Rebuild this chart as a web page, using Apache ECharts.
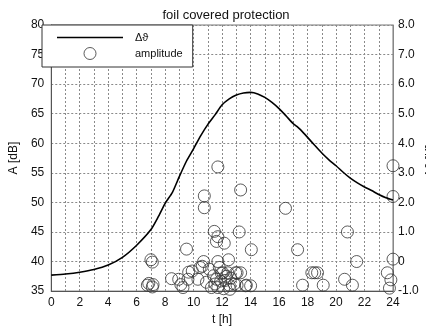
<!DOCTYPE html>
<html>
<head>
<meta charset="utf-8">
<script src="https://cdn.jsdelivr.net/npm/echarts@6/dist/echarts.min.js"></script>
<style>
  html, body { margin: 0; padding: 0; background: #fff; }
  #chart { width: 426px; height: 331px; }
</style>
</head>
<body>
<div id="chart"></div>
<script>
// temperature difference curve (right axis)
const lineHours = [0, 1, 2, 3, 4, 5, 6, 7, 7.5, 8, 8.5, 9, 9.5, 10, 10.5, 11, 11.5, 12, 12.5, 13, 13.5, 14, 14.5,
  15, 15.5, 16, 16.5, 17, 17.25, 17.5, 18, 18.5, 19, 19.5, 20, 20.5, 21, 21.5, 22, 22.5, 23, 23.5, 24]
const lineDelta = [-0.46, -0.42, -0.36, -0.27, -0.12, 0.14, 0.55, 1.08, 1.5, 1.97, 2.33, 2.88, 3.4, 3.82, 4.26, 4.64, 4.96, 5.3, 5.5, 5.63, 5.7, 5.72, 5.67,
  5.55, 5.38, 5.17, 4.92, 4.66, 4.57, 4.46, 4.2, 3.93, 3.67, 3.44, 3.24, 3.02, 2.82, 2.66, 2.52, 2.4, 2.27, 2.16, 2.08]

// amplitude events (left axis)
const ampHours = [6.75, 6.85, 7.1, 7.15, 7.0, 7.1,
  8.45, 8.95, 9.1, 9.25, 9.5, 9.65, 9.6, 9.9, 10.3, 10.45, 10.6, 10.7, 10.75, 10.75,
  10.9, 11.1, 11.25, 11.4, 11.45, 11.5, 11.6, 11.6, 11.7, 11.7, 11.7, 11.7, 11.8, 11.9,
  11.95, 12.05, 12.1, 12.15, 12.2, 12.3, 12.4, 12.45, 12.5, 12.55, 12.6, 12.85, 12.95,
  13.05, 13.05, 13.2, 13.3, 13.3, 13.65, 13.7, 14.05, 14.0,
  16.45, 17.3, 17.65, 18.3, 18.5, 18.7, 19.1, 20.6, 20.8, 21.15, 21.45,
  23.6, 23.85, 23.75, 24.0, 24.0, 24.0]
const ampDb = [36.0, 36.3, 35.7, 36.1, 40.3, 39.9,
  37.1, 37.0, 36.1, 35.6, 42.1, 38.2, 37.0, 38.4, 37.0, 39.0, 39.2, 40.0, 51.1, 49.1,
  36.5, 38.7, 35.6, 37.6, 45.1, 36.2, 43.4, 37.0, 56.0, 44.2, 40.0, 35.6, 39.0, 36.7,
  38.0, 38.1, 35.4, 43.1, 36.8, 37.5, 38.1, 40.3, 36.0, 35.3, 37.2, 36.2, 38.1,
  38.1, 36.0, 45.0, 52.1, 38.1, 35.9, 36.0, 42.0, 35.9,
  49.0, 42.0, 36.0, 38.1, 38.1, 38.1, 36.0, 37.0, 45.0, 36.0, 40.0,
  38.1, 36.9, 35.5, 40.4, 56.2, 51.0]

const lineData = lineHours.map((t, i) => [t, lineDelta[i]])
const ampData = ampHours.map((t, i) => [t, ampDb[i]])

const font = 'Liberation Sans, Arial, sans-serif'
const gridLine = { lineStyle: { color: '#8a8a8a', type: [2, 2], width: 1 } }
const circleStyle = { color: 'rgba(0,0,0,0)', borderColor: '#333', borderWidth: 1 }

const chart = echarts.init(document.getElementById('chart'))
chart.setOption({
  animation: false,
  textStyle: { fontFamily: font },
  title: {
    text: 'foil covered protection',
    left: 221,
    textAlign: 'center',
    top: 4,
    textStyle: { fontSize: 13, fontWeight: 'normal', color: '#111', fontFamily: font }
  },
  legend: {
    left: 42,
    top: 25,
    orient: 'vertical',
    itemWidth: 66,
    itemHeight: 12,
    itemGap: 4,
    padding: [7, 10, 7, 15],
    backgroundColor: '#fff',
    borderColor: '#333',
    borderWidth: 1,
    borderRadius: 0,
    symbolKeepAspect: true,
    textStyle: { fontSize: 11, color: '#111', padding: [0, 0, 0, 7] },
    data: [
      { name: 'Δϑ', icon: 'path://M0,0 L66,0 L66,1.7 L0,1.7 Z', itemStyle: { color: '#000', borderWidth: 0 } },
      { name: 'amplitude', icon: 'circle', itemStyle: circleStyle }
    ]
  },
  graphic: [{
    // right axis title, cut off by the page edge as in the original
    type: 'text',
    x: 431,
    y: 161,
    rotation: Math.PI / 2,
    style: { text: 'Δϑ [K]', font: '12px ' + font, fill: '#111', align: 'center', verticalAlign: 'middle' }
  }],
  grid: {
    left: 42, right: 33, top: 25, bottom: 34,
    show: true, borderColor: '#777', borderWidth: 1, backgroundColor: 'transparent'
  },
  xAxis: {
    type: 'value',
    min: 0, max: 24, interval: 2,
    name: 't [h]',
    nameLocation: 'middle',
    nameGap: 20,
    nameTextStyle: { fontSize: 12, color: '#111' },
    axisLine: { onZero: false, lineStyle: { color: '#555' } },
    axisTick: { show: false },
    axisLabel: { fontSize: 12, color: '#111', margin: 6 },
    splitLine: gridLine,
    minorTick: { show: false, splitNumber: 2 },
    minorSplitLine: { show: true, lineStyle: { color: '#8a8a8a', type: [2, 2], width: 1 } }
  },
  yAxis: [{
    type: 'value',
    min: 35, max: 80, interval: 5,
    name: 'A [dB]',
    nameLocation: 'middle',
    nameGap: 30,
    nameTextStyle: { fontSize: 12, color: '#111' },
    axisLine: { show: true, lineStyle: { color: '#555' } },
    axisTick: { show: false },
    axisLabel: { fontSize: 12, color: '#111', margin: 7 },
    splitLine: gridLine
  }, {
    type: 'value',
    position: 'right',
    min: -1, max: 8, interval: 1,
    axisLine: { show: true, lineStyle: { color: '#888' } },
    axisTick: { show: false },
    axisLabel: {
      fontSize: 12, color: '#111', margin: 5,
      formatter: v => v === 0 ? '0' : v.toFixed(1)
    },
    splitLine: { show: false }
  }],
  series: [{
    name: 'Δϑ',
    type: 'line',
    yAxisIndex: 1,
    data: lineData,
    symbol: 'none',
    smooth: 0.2,
    lineStyle: { color: '#000', width: 1.6 },
    itemStyle: { color: '#000' },
    z: 3
  }, {
    name: 'amplitude',
    type: 'scatter',
    yAxisIndex: 0,
    data: ampData,
    symbol: 'circle',
    symbolSize: 12,
    clip: true,
    itemStyle: circleStyle,
    z: 2
  }]
})
</script>
</body>
</html>
